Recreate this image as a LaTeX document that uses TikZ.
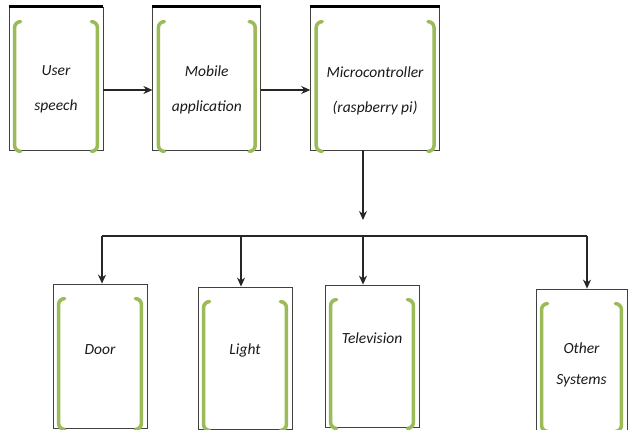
\documentclass[tikz,border=0pt]{standalone}
\usepackage{fontspec}
\setmainfont{Carlito}
\usetikzlibrary{positioning, arrows.meta}
\definecolor{bracketgreen}{HTML}{9BBB59}
% colchetes verdes dentro de cada bloco
\newcommand{\greenbrackets}[1]{%
  \draw[bracket] ([shift={(12pt,-15pt)}]#1.north west) to[out=180,in=90] ([shift={(6pt,-21pt)}]#1.north west)
    -- ([shift={(6pt,5pt)}]#1.south west) to[out=-90,in=180] ([shift={(12pt,-1pt)}]#1.south west);
  \draw[bracket] ([shift={(-12pt,-15pt)}]#1.north east) to[out=0,in=90] ([shift={(-6pt,-21pt)}]#1.north east)
    -- ([shift={(-6pt,5pt)}]#1.south east) to[out=-90,in=0] ([shift={(-12pt,-1pt)}]#1.south east);
}

\begin{document}
\begin{tikzpicture}[
    x=1pt, y=-1pt,
    >={Stealth[length=9pt, width=8pt]},
    block/.style={draw=black!75, line width=0.8pt, minimum width=94pt, minimum height=143pt, inner sep=0pt},
    lbl/.style={font=\itshape\fontsize{15.5}{35}\selectfont, text=black!90, align=center},
    bracket/.style={draw=bracketgreen, line width=3.5pt, line cap=round},
    link/.style={->, line width=1.1pt, draw=black!85}
  ]
  \useasboundingbox (0,0) rectangle (628,430);

  % --- BLOCOS DE CIMA ---
  \node[block, label={[lbl, yshift=-11pt]center:User\\speech}] (user) at (56,78.5) {};
  \node[block, minimum width=108pt, right=49pt of user,
        label={[lbl, yshift=-11pt]center:Mobile\\application}] (mobile) {};
  \node[block, minimum width=129pt, right=49pt of mobile,
        label={[lbl, yshift=-12pt]center:Microcontroller\\(raspberry pi)}] (micro) {};

  % --- BLOCOS DE BAIXO ---
  \node[block, minimum height=144pt, label={[lbl, yshift=6pt]center:Door}] (door) at (100,356) {};
  \node[block, minimum height=142pt, label={[lbl, yshift=8pt]center:Light}] (light) at (245,358) {};
  \node[block, minimum height=142pt, label={[lbl, yshift=18pt]center:Television}] (tv) at (372,356) {};
  \node[block, minimum width=91pt, minimum height=141pt,
        label={[lbl, font=\itshape\fontsize{15.5}{31}\selectfont, yshift=-5.5pt]center:Other\\Systems}] (other) at (581.5,359.5) {};

  % borda de cima mais grossa
  \foreach \b in {user, mobile, micro}
    \draw[line width=2.2pt] (\b.north west) -- (\b.north east);

  \foreach \b in {user, mobile, micro, door, light, tv, other}
    \greenbrackets{\b};

  % --- LIGACOES ---
  \draw[link] ([yshift=-11.5pt]user.east) -- ([yshift=-11.5pt]mobile.west);
  \draw[link] ([yshift=-11.5pt]mobile.east) -- ([yshift=-11.5pt]micro.west);

  \coordinate (drop) at (363,220);
  \draw[link] (micro.south -| drop) -- (drop);

  \coordinate (tapdoor) at (102,236);
  \coordinate (taplight) at (241,236);
  \coordinate (taptv) at (363,236);
  \coordinate (tapother) at (587,236);
  \draw[line width=1.1pt, draw=black!85] (tapdoor) -- (tapother);
  \foreach \t/\b in {tapdoor/door, taplight/light, taptv/tv, tapother/other}
    \draw[link] (\t) -- (\t |- \b.north);

\end{tikzpicture}
\end{document}
